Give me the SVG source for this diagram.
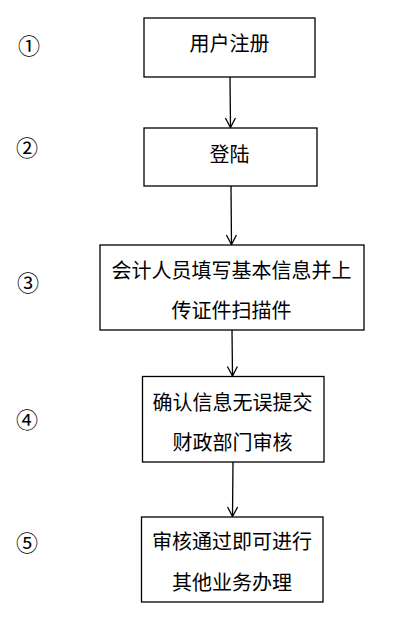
<svg xmlns="http://www.w3.org/2000/svg" width="415" height="623" viewBox="0 0 415 623">
<style>
.box{fill:#fff;stroke:#000;stroke-width:1.3}
.t{font-family:"Noto Sans CJK SC","Liberation Sans",sans-serif;font-size:20px;fill:#000;text-anchor:middle;dominant-baseline:central}
.n{font-family:"Noto Sans CJK SC","DejaVu Sans",sans-serif;font-size:22px;fill:#000;text-anchor:middle;dominant-baseline:central}
.c{stroke:#000;stroke-width:1.3;fill:none;marker-end:url(#ah)}
</style>
<defs>
<marker id="ah" viewBox="0 0 12 12" refX="11.5" refY="6" markerWidth="12" markerHeight="12" markerUnits="userSpaceOnUse" orient="auto">
<polyline points="2,1 11.5,6 2,11" fill="none" stroke="#000" stroke-width="1.3"/>
</marker>
</defs>
<rect width="415" height="623" fill="#fff"/>
<g id="labels">
<text class="n" x="29" y="44">①</text>
<text class="n" x="27" y="146">②</text>
<text class="n" x="28" y="281">③</text>
<text class="n" x="27" y="418">④</text>
<text class="n" x="27" y="541">⑤</text>
</g>
<g id="connectors">
<line class="c" x1="230" y1="77" x2="230.5" y2="127.5"/>
<line class="c" x1="231" y1="186" x2="231.5" y2="244.5"/>
<line class="c" x1="232" y1="330" x2="232.5" y2="376"/>
<line class="c" x1="233" y1="462" x2="232.5" y2="516.5"/>
</g>
<g id="n1">
<rect class="box" x="144" y="18" width="171" height="59"/>
<text class="t" x="229.5" y="42">用户注册</text>
</g>
<g id="n2">
<rect class="box" x="144" y="128" width="173" height="58"/>
<text class="t" x="229.5" y="153">登陆</text>
</g>
<g id="n3">
<rect class="box" x="100" y="245" width="264" height="85"/>
<text class="t" x="231.5" y="269">会计人员填写基本信息并上</text>
<text class="t" x="231.5" y="309">传证件扫描件</text>
</g>
<g id="n4">
<rect class="box" x="142.5" y="376.5" width="181.5" height="85.5"/>
<text class="t" x="232.5" y="401">确认信息无误提交</text>
<text class="t" x="232.5" y="441">财政部门审核</text>
</g>
<g id="n5">
<rect class="box" x="141.5" y="517" width="181.5" height="85"/>
<text class="t" x="232" y="540">审核通过即可进行</text>
<text class="t" x="232" y="581">其他业务办理</text>
</g>
</svg>
